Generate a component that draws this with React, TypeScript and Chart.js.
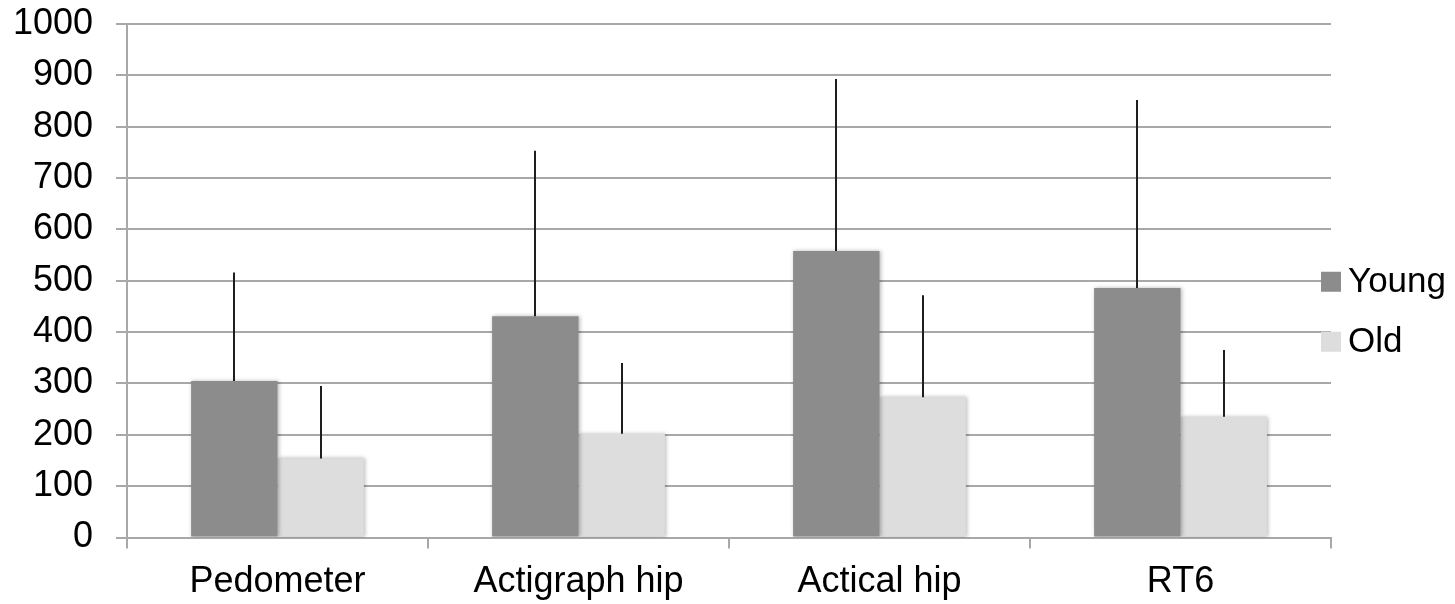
import React, { useEffect, useRef } from "react";
import { Chart, registerables } from "chart.js";

Chart.register(...registerables);

const categories = ["Pedometer", "Actigraph hip", "Actical hip", "RT6"];
const seriesNames = ["Young", "Old"];
const youngMeans = [305, 431, 558, 486];
const youngSD = [211, 322, 335, 366];
const oldMeans = [154, 202, 273, 235];
const oldSD = [141, 138, 199, 130];
const yTicks = [0, 100, 200, 300, 400, 500, 600, 700, 800, 900, 1000];

const youngColor = "#8c8c8c";
const oldColor = "#dddddd";
const gridColor = "#a8a8a8";
const FONT = "'Liberation Sans', Arial, Helvetica, sans-serif";
const FONT_SIZE = 36;

const errorBarPlugin = {
  id: "errorBars",
  afterDatasetsDraw(chart: any) {
    const ctx = chart.ctx;
    const yScale = chart.scales.y;
    const sds = [youngSD, oldSD];
    ctx.save();
    ctx.strokeStyle = "#1e1e1e";
    ctx.lineWidth = 2;
    chart.data.datasets.forEach((ds: any, di: number) => {
      const meta = chart.getDatasetMeta(di);
      meta.data.forEach((bar: any, i: number) => {
        const v = ds.data[i];
        const top = yScale.getPixelForValue(v + sds[di][i]);
        const base = yScale.getPixelForValue(v);
        ctx.beginPath();
        ctx.moveTo(Math.round(bar.x), base);
        ctx.lineTo(Math.round(bar.x), top);
        ctx.stroke();
      });
    });
    ctx.restore();
  },
};

const shadowPlugin = {
  id: "barShadow",
  beforeDatasetsDraw(chart: any) {
    const ctx = chart.ctx;
    ctx.save();
    ctx.shadowColor = "rgba(0,0,0,0.28)";
    ctx.shadowBlur = 4;
    ctx.shadowOffsetX = 1;
    ctx.shadowOffsetY = 0;
  },
  afterDatasetsDraw(chart: any) {
    chart.ctx.restore();
  },
};

const legendPlugin = {
  id: "sideLegend",
  afterDraw(chart: any) {
    const ctx = chart.ctx;
    const area = chart.chartArea;
    const colors = [youngColor, oldColor];
    const x = area.right - 10;
    const centerY = (area.top + area.bottom) / 2 + 31;
    const gap = 60;
    ctx.save();
    ctx.font = `${FONT_SIZE - 1}px ${FONT}`;
    ctx.textBaseline = "middle";
    ctx.textAlign = "left";
    seriesNames.forEach((name, i) => {
      const cy = centerY + (i - 0.5) * gap;
      ctx.fillStyle = colors[i];
      ctx.fillRect(x, cy - 10, 20, 20);
      ctx.fillStyle = "#000";
      ctx.fillText(name, x + 27, cy + 1);
    });
    ctx.restore();
  },
};

export default function App() {
  const canvasRef = useRef<HTMLCanvasElement | null>(null);

  useEffect(() => {
    if (!canvasRef.current) return;
    const chart = new Chart(canvasRef.current, {
      type: "bar",
      data: {
        labels: categories,
        datasets: [
          {
            label: seriesNames[0],
            data: youngMeans,
            backgroundColor: youngColor,
            categoryPercentage: 0.574,
            barPercentage: 1,
          },
          {
            label: seriesNames[1],
            data: oldMeans,
            backgroundColor: oldColor,
            categoryPercentage: 0.574,
            barPercentage: 1,
          },
        ],
      },
      options: {
        animation: false,
        responsive: false,
        maintainAspectRatio: false,
        layout: { padding: { top: 0, right: 124, left: 0, bottom: 0 } },
        plugins: {
          legend: { display: false },
          tooltip: { enabled: false },
        },
        scales: {
          x: {
            grid: {
              display: true,
              offset: true,
              drawOnChartArea: false,
              drawTicks: true,
              tickLength: 11,
              color: gridColor,
              lineWidth: 2,
            },
            border: { display: true, color: gridColor, width: 2 },
            ticks: {
              color: "#000",
              font: { family: FONT, size: FONT_SIZE },
              padding: 12,
              maxRotation: 0,
              autoSkip: false,
            },
            afterFit(scale: any) {
              scale.height = 66.5;
            },
          },
          y: {
            min: 0,
            max: 1000,
            afterBuildTicks(scale: any) {
              scale.ticks = yTicks.map((v) => ({ value: v }));
            },
            grid: {
              color: gridColor,
              lineWidth: 2,
              tickLength: 11,
              drawTicks: true,
            },
            border: { display: true, color: gridColor, width: 2 },
            ticks: {
              color: "#000",
              font: { family: FONT, size: FONT_SIZE },
              padding: 23,
              callback: (v: any) => String(v),
            },
            afterFit(scale: any) {
              scale.width = 127;
              scale.paddingTop = 24;
              scale.paddingBottom = 20;
            },
          },
        },
      },
      plugins: [shadowPlugin, errorBarPlugin, legendPlugin],
    } as any);
    return () => chart.destroy();
  }, []);

  return (
    <div style={{ position: "absolute", left: 0, top: 0, width: 1455, height: 604, background: "#fff" }}>
      <canvas ref={canvasRef} width={1455} height={604} style={{ width: 1455, height: 604, display: "block" }} />
    </div>
  );
}
